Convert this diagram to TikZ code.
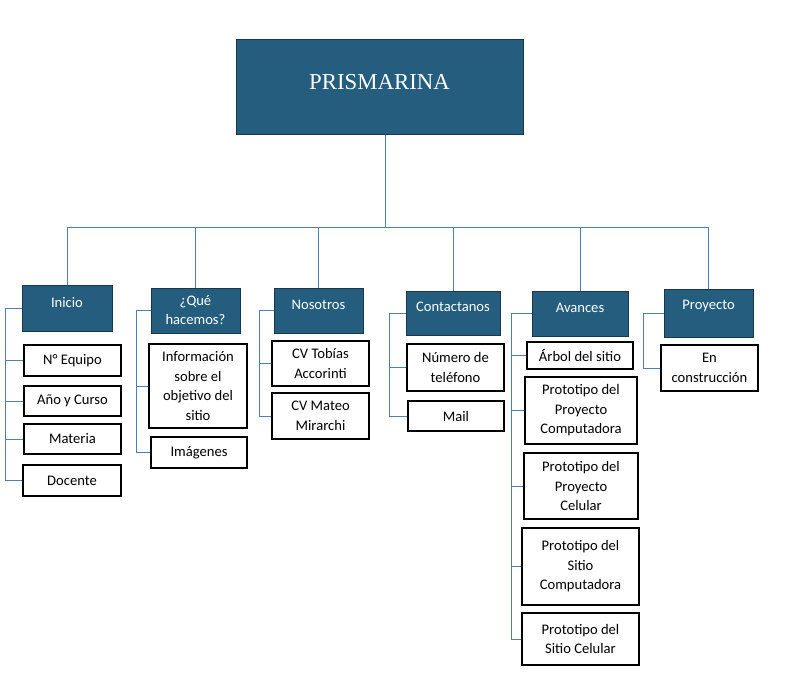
\documentclass[tikz,border=0pt]{standalone}
\usepackage{fontspec}
\newfontfamily\calfont{Carlito}
\newfontfamily\titlefont{Liberation Serif}
\definecolor{darkbox}{HTML}{245D7E}
\definecolor{darkedge}{HTML}{17374D}
\definecolor{linec}{HTML}{4F7DB8}
\begin{document}
\begin{tikzpicture}[x=1pt,y=-1pt,
  txt/.style={font=\calfont\fontsize{14.6}{19.5}\selectfont},
  dark/.style={draw=darkedge, line width=1pt, fill=darkbox, inner sep=0pt},
  dlabel/.style={txt, text=white, align=center},
  leaf/.style={draw=black, line width=1.1pt, fill=white, text=black, inner sep=0pt, align=center, txt},
  conn/.style={draw=linec, line width=1pt}]
\useasboundingbox[fill=white] (0,0) rectangle (791,699);

% root
\node[dark, minimum width=287pt, minimum height=95pt,
  label={[text=white,font=\titlefont\fontsize{22.8}{27}\selectfont,yshift=4.5pt]center:PRISMARINA}]
  (title) at (379.5,86.5) {};

% level 1
\node[dark, minimum width=90pt, minimum height=46pt, label={[dlabel,yshift=5.5pt]center:Inicio}] (inicio) at (67,308) {};
\node[dark, minimum width=89pt, minimum height=45pt, label={[dlabel,yshift=0.5pt]center:¿Qué\\hacemos?}] (qh) at (195.5,310.5) {};
\node[dark, minimum width=89pt, minimum height=45pt, label={[dlabel,yshift=5.5pt]center:Nosotros}] (nos) at (318.5,310.5) {};
\node[dark, minimum width=94pt, minimum height=44pt, label={[dlabel,yshift=6pt]center:Contactanos}] (con) at (453,313) {};
\node[dark, minimum width=96pt, minimum height=45pt, label={[dlabel,yshift=5.5pt]center:Avances}] (ava) at (580,313.5) {};
\node[dark, minimum width=89pt, minimum height=48pt, label={[dlabel,yshift=7pt]center:Proyecto}] (pro) at (708.5,313) {};

% leaves
\node[leaf, minimum width=97pt, minimum height=31pt] (eq) at (72.5,360.5) {N° Equipo};
\node[leaf, minimum width=97pt, minimum height=30pt] (ac) at (72.5,401) {Año y Curso};
\node[leaf, minimum width=97pt, minimum height=30pt] (mat) at (72.5,439) {Materia};
\node[leaf, minimum width=98pt, minimum height=31pt] (doc) at (72,480.5) {Docente};

\node[leaf, minimum width=98pt, minimum height=84pt] (info) at (198,386) {Información\\sobre el\\objetivo del\\sitio};
\node[leaf, minimum width=96pt, minimum height=31pt] (img) at (199,452.5) {Imágenes};

\node[leaf, minimum width=97pt, minimum height=45pt] (cvt) at (320.5,363.5) {CV Tobías\\Accorinti};
\node[leaf, minimum width=97pt, minimum height=46pt] (cvm) at (320.5,416) {CV Mateo\\Mirarchi};

\node[leaf, minimum width=97pt, minimum height=47pt] (num) at (455.5,367.5) {Número de\\teléfono};
\node[leaf, minimum width=96pt, minimum height=30pt] (mail) at (456,416) {Mail};

\node[leaf, minimum width=106pt, minimum height=27pt] (arb) at (580,355.5) {Árbol del sitio};
\node[leaf, minimum width=112pt, minimum height=67pt] (ppc) at (581,410.5) {Prototipo del\\Proyecto\\Computadora};
\node[leaf, minimum width=114pt, minimum height=66pt] (ppcel) at (581,486) {Prototipo del\\Proyecto\\Celular};
\node[leaf, minimum width=117pt, minimum height=77pt] (psc) at (580.5,566.5) {Prototipo del\\Sitio\\Computadora};
\node[leaf, minimum width=117pt, minimum height=52pt] (pscel) at (580.5,639) {Prototipo del\\Sitio Celular};

\node[leaf, minimum width=97pt, minimum height=46pt] (enc) at (709.5,368) {En\\construcción};

% bus
\coordinate (bus) at (385,227);
\draw[conn] (title.south -| bus) -- (bus);
\draw[conn] (bus -| inicio.north) -- (bus -| pro.north);
\foreach \n in {inicio,qh,nos,con,ava,pro}
  \draw[conn] (bus -| \n.north) -- (\n.north);

% branch columns
\coordinate (b1) at (5,0);
\coordinate (b2) at (136,0);
\coordinate (b3) at (259,0);
\coordinate (b4) at (389,0);
\coordinate (b5) at (511,0);
\coordinate (b6) at (643,0);

\draw[conn] (inicio.west) -| (doc.west -| b1) -- (doc.west);
\foreach \n in {eq,ac,mat} \draw[conn] (\n.west -| b1) -- (\n.west);

\draw[conn] (qh.west) -| (img.west -| b2) -- (img.west);
\draw[conn] (info.west -| b2) -- (info.west);

\draw[conn] (nos.west) -| (cvm.west -| b3) -- (cvm.west);
\draw[conn] (cvt.west -| b3) -- (cvt.west);

\draw[conn] (con.west) -| (mail.west -| b4) -- (mail.west);
\draw[conn] (num.west -| b4) -- (num.west);

\draw[conn] (ava.west) -| (pscel.west -| b5) -- (pscel.west);
\foreach \n in {arb,ppc,ppcel,psc} \draw[conn] (\n.west -| b5) -- (\n.west);

\draw[conn] (pro.west) -| (enc.west -| b6) -- (enc.west);
\end{tikzpicture}
\end{document}
